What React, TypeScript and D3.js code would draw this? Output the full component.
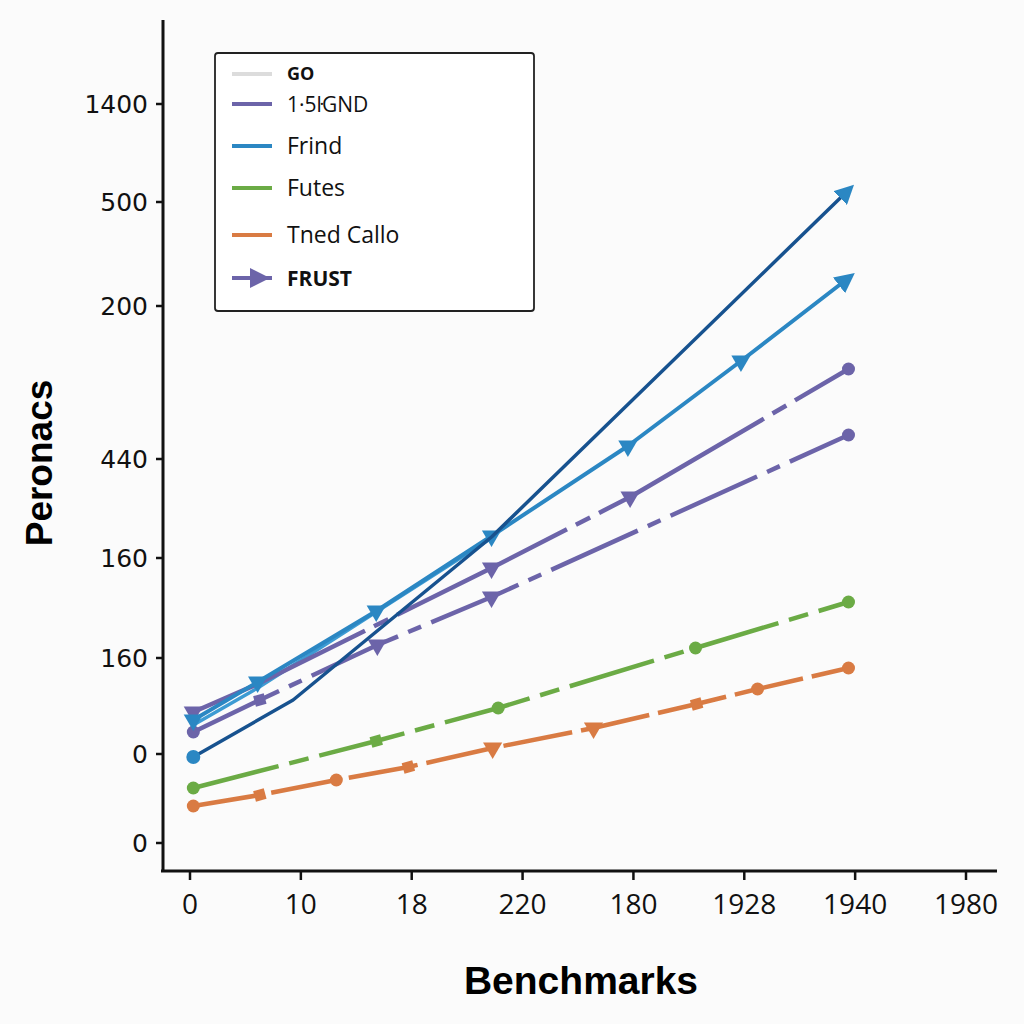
import React from "react";
import * as d3 from "d3";

// ---- data ----
const xTickLabels = ["0", "10", "18", "220", "180", "1928", "1940", "1980"];
const yTickValues = [76.6, 66.8, 56.4, 41.1, 31.2, 21.2, 11.6, 2.7];
const yTickLabels = ["1400", "500", "200", "440", "160", "160", "0", "0"];

const navyX = [0.03, 0.93, 2.72, 5.94];
const navyY = [11.3, 17.0, 33.3, 68.0];

const frindX = [0.03, 0.61, 1.68, 2.72, 3.95, 4.97, 5.94];
const frindY = [15.0, 18.8, 25.9, 33.4, 42.4, 50.9, 59.2];

const frindAltX = [0.03, 0.61, 2.72];
const frindAltY = [14.5, 18.2, 33.2];

const purpleUpperX = [0.03, 0.61, 2.72, 3.97, 5.94];
const purpleUpperY = [15.8, 18.6, 30.2, 37.3, 50.1];

const purpleLowerX = [0.03, 0.63, 1.69, 2.72, 5.94];
const purpleLowerY = [13.8, 17.0, 22.5, 27.3, 43.5];

const greenX = [0.03, 1.68, 2.78, 4.56, 5.94];
const greenY = [8.2, 12.9, 16.2, 22.2, 26.8];

const orangeX = [0.03, 0.63, 1.32, 1.97, 2.73, 3.64, 4.57, 5.12, 5.94];
const orangeY = [6.4, 7.5, 9.0, 10.3, 12.2, 14.2, 16.6, 18.1, 20.2];

const legendLabels = ["GO", "1\u00B75\u0140GND", "Frind", "Futes", "Tned Callo", "FRUST"];

// ---- styles ----
const C = {
  navy: "#17528f",
  blue: "#2b87c3",
  blueAlt: "#3d9bd3",
  purple: "#6c64a9",
  green: "#6bab45",
  orange: "#d97b43",
  gray: "#dcdcdc",
};

type Series = {
  xs: number[];
  ys: number[];
  color: string;
  width: number;
  dash?: string;
  markers: string[];
  arrow?: boolean;
};

const series: Series[] = [
  { xs: frindAltX, ys: frindAltY, color: C.blueAlt, width: 3.5, markers: ["none", "none", "none"] },
  { xs: orangeX, ys: orangeY, color: C.orange, width: 4.5, dash: "70,9",
    markers: ["circle", "square", "circle", "square", "tri", "tri", "square", "circle", "circle"] },
  { xs: greenX, ys: greenY, color: C.green, width: 4.5, dash: "88,11,20,11",
    markers: ["circle", "square", "circle", "circle", "circle"] },
  { xs: purpleLowerX, ys: purpleLowerY, color: C.purple, width: 4.5, dash: "95,11,14,11",
    markers: ["circle", "square", "tri", "tri", "circle"] },
  { xs: purpleUpperX, ys: purpleUpperY, color: C.purple, width: 4.5, dash: "190,10,16,10",
    markers: ["tri", "none", "tri", "tri", "circle"] },
  { xs: frindX, ys: frindY, color: C.blue, width: 4,
    markers: ["tri", "tri", "tri", "tri", "tri", "tri", "none"], arrow: true },
  { xs: navyX, ys: navyY, color: C.navy, width: 3.5,
    markers: ["circleBlue", "none", "none", "none"], arrow: true },
];

export default function App() {
  const W = 1024, H = 1024;
  const x = d3.scaleLinear().domain([0, 7]).range([190, 966]);
  const y = d3.scaleLinear().domain([0, 85]).range([870, 20]);
  const line = d3.line<[number, number]>().x((d) => x(d[0])).y((d) => y(d[1]));

  const sym = (kind: string, color: string, cx: number, cy: number, key: string) => {
    if (kind === "none") return null;
    if (kind === "circle") return <circle key={key} cx={cx} cy={cy} r={6.5} fill={color} />;
    if (kind === "circleBlue") return <circle key={key} cx={cx} cy={cy} r={7} fill={C.blue} />;
    if (kind === "square") {
      const p = d3.symbol().type(d3.symbolSquare).size(120)();
      return <path key={key} d={p || ""} transform={`translate(${cx},${cy}) rotate(-15)`} fill={color} />;
    }
    const p = d3.symbol().type(d3.symbolTriangle).size(160)();
    return <path key={key} d={p || ""} transform={`translate(${cx},${cy}) rotate(180)`} fill={color} />;
  };

  const legendRows = [74, 104, 146, 188, 235, 278];
  const legendColors = [C.gray, C.purple, C.blue, C.green, C.orange, C.purple];

  return (
    <svg width={W} height={H} style={{ position: "absolute", left: 0, top: 0 }}
      fontFamily="'DejaVu Sans', sans-serif">
      <defs>
        <marker id="arrowBlue" viewBox="0 0 10 10" refX="6" refY="5" markerWidth="5" markerHeight="5"
          orient="auto" markerUnits="strokeWidth">
          <path d="M0,0 L10,5 L0,10 z" fill={C.blue} />
        </marker>
        <marker id="arrowNavy" viewBox="0 0 10 10" refX="6" refY="5" markerWidth="5.5" markerHeight="5.5"
          orient="auto" markerUnits="strokeWidth">
          <path d="M0,0 L10,5 L0,10 z" fill={C.blue} />
        </marker>
      </defs>
      <rect x={0} y={0} width={W} height={H} fill="#fbfbfb" />

      {/* series */}
      {series.map((s, i) => {
        const pts = s.xs.map((v, j) => [v, s.ys[j]] as [number, number]);
        return (
          <g key={i}>
            <path d={line(pts) || ""} fill="none" stroke={s.color} strokeWidth={s.width}
              strokeDasharray={s.dash} strokeLinejoin="round"
              markerEnd={s.arrow ? (s.color === C.navy ? "url(#arrowNavy)" : "url(#arrowBlue)") : undefined} />
            {pts.map((p, j) => sym(s.markers[j], s.color, x(p[0]), y(p[1]), `${i}-${j}`))}
          </g>
        );
      })}

      {/* axes */}
      <line x1={163} x2={163} y1={y(85)} y2={872} stroke="#111" strokeWidth={3} />
      <line x1={161} x2={997} y1={871} y2={871} stroke="#111" strokeWidth={3} />
      {yTickValues.map((v, i) => (
        <g key={"yt" + i}>
          <line x1={156} x2={163} y1={y(v)} y2={y(v)} stroke="#111" strokeWidth={2.5} />
          <text x={148} y={y(v)} dy="0.36em" textAnchor="end" fontSize={25} fill="#111">
            {yTickLabels[i]}
          </text>
        </g>
      ))}
      {xTickLabels.map((lab, i) => (
        <g key={"xt" + i}>
          <line x1={x(i)} x2={x(i)} y1={871} y2={880} stroke="#111" strokeWidth={2.5} />
          <text x={x(i)} y={914} textAnchor="middle" fontSize={28} fill="#111"
            fontFamily="'Open Sans', sans-serif">{lab}</text>
        </g>
      ))}

      {/* axis titles */}
      <text x={581} y={994} textAnchor="middle" fontSize={39} fontWeight="bold"
        fontFamily="'Liberation Sans', Arial, sans-serif" fill="#000">Benchmarks</text>
      <text transform="translate(52,463) rotate(-90)" textAnchor="middle" fontSize={37} fontWeight="bold"
        fontFamily="'Liberation Sans', Arial, sans-serif" fill="#000">Peronacs</text>

      {/* legend */}
      <rect x={215} y={53} width={319} height={258} rx={3} fill="#fff" stroke="#222" strokeWidth={1.8} />
      {legendLabels.map((lab, i) => {
        const ly = legendRows[i];
        const bold = i === 0 || i === 5;
        const fs = i === 0 ? 18 : i === 5 ? 21 : i === 1 ? 21 : 23;
        return (
          <g key={"lg" + i}>
            <line x1={232} x2={272} y1={ly} y2={ly} stroke={legendColors[i]} strokeWidth={4} />
            {i === 5 && <path d="M250,268 L270,278 L250,288 z" fill={C.purple} />}
            <text x={287} y={ly} dy="0.36em" fontSize={fs} fontWeight={bold ? "bold" : "normal"}
              fontFamily="'Open Sans', sans-serif" fill="#111">{lab}</text>
          </g>
        );
      })}
    </svg>
  );
}
